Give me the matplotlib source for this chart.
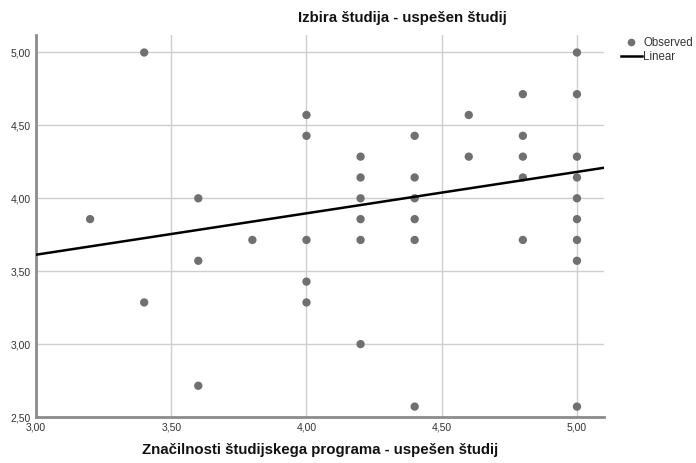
import numpy as np
import matplotlib
matplotlib.use("Agg")
import matplotlib.pyplot as plt
from matplotlib.lines import Line2D
from matplotlib.ticker import FuncFormatter

# Observed values: x = characteristics of the study programme, y = choice of study
x_obs = [3.2,
         3.4, 3.4,
         3.6, 3.6, 3.6,
         3.8,
         4.0, 4.0, 4.0, 4.0, 4.0,
         4.2, 4.2, 4.2, 4.2, 4.2, 4.2,
         4.4, 4.4, 4.4, 4.4, 4.4, 4.4,
         4.6, 4.6,
         4.8, 4.8, 4.8, 4.8, 4.8,
         5.0, 5.0, 5.0, 5.0, 5.0, 5.0, 5.0, 5.0, 5.0]
y_obs = [27/7,
         5.0, 23/7,
         4.0, 25/7, 19/7,
         26/7,
         32/7, 31/7, 26/7, 24/7, 23/7,
         30/7, 29/7, 4.0, 27/7, 26/7, 3.0,
         31/7, 29/7, 4.0, 27/7, 26/7, 18/7,
         32/7, 30/7,
         33/7, 31/7, 30/7, 29/7, 26/7,
         5.0, 33/7, 30/7, 29/7, 4.0, 27/7, 26/7, 25/7, 18/7]

# Linear fit (computed on the full respondent sample, where many answers coincide)
fit_intercept = 2.761
fit_slope = 0.284

x_ticks = [3.0, 3.5, 4.0, 4.5, 5.0]
y_ticks = [2.5, 3.0, 3.5, 4.0, 4.5, 5.0]
x_lim = (3.0, 5.1)
y_lim = (2.5, 5.12)

title = "Izbira študija - uspešen študij"
x_label = "Značilnosti študijskega programa - uspešen študij"
legend_labels = ["Observed", "Linear"]

plt.rcParams['font.family'] = ['Liberation Sans', 'DejaVu Sans']

fig = plt.figure(figsize=(6.96, 4.63), dpi=100)
ax = fig.add_axes([36/696, 1 - 417/463, (604 - 36)/696, (417 - 35)/463])

ax.set_xlim(*x_lim)
ax.set_ylim(*y_lim)
ax.set_xticks(x_ticks)
ax.set_yticks(y_ticks)
comma = FuncFormatter(lambda v, p: f"{v:.2f}".replace(".", ","))
ax.xaxis.set_major_formatter(comma)
ax.yaxis.set_major_formatter(comma)
ax.grid(True, color="#cfcfcf", linewidth=1.0)
ax.set_axisbelow(True)

for s in ("top", "right"):
    ax.spines[s].set_visible(False)
for s in ("left", "bottom"):
    ax.spines[s].set_color("#8c8c8c")
    ax.spines[s].set_linewidth(2.0)
ax.tick_params(length=0, labelsize=7.5, labelcolor="#333333", pad=4)

ax.scatter(x_obs, y_obs, s=36, color="#707070", edgecolors="none", zorder=3)

xs = np.array(x_lim)
ax.plot(xs, fit_intercept + fit_slope * xs, color="black", linewidth=1.8, zorder=4)

fig.text(402/696, 1 - 18/463, title, ha="center", va="center",
         fontsize=10.8, fontweight="bold", color="#111111")
fig.text(320/696, 1 - 450/463, x_label, ha="center", va="center",
         fontsize=10.8, fontweight="bold", color="#111111")

handles = [Line2D([], [], marker="o", linestyle="none", color="#707070",
                  markersize=5.5, markeredgewidth=0),
           Line2D([], [], color="black", linewidth=1.8)]
fig.legend(handles, legend_labels, loc="upper left",
           bbox_to_anchor=(615/696, 1 - 31/463), frameon=False,
           fontsize=8.3, handlelength=1.8, handletextpad=0.15,
           labelspacing=0.2, borderpad=0, labelcolor="#333333")

fig.savefig("out.png", dpi=100)
